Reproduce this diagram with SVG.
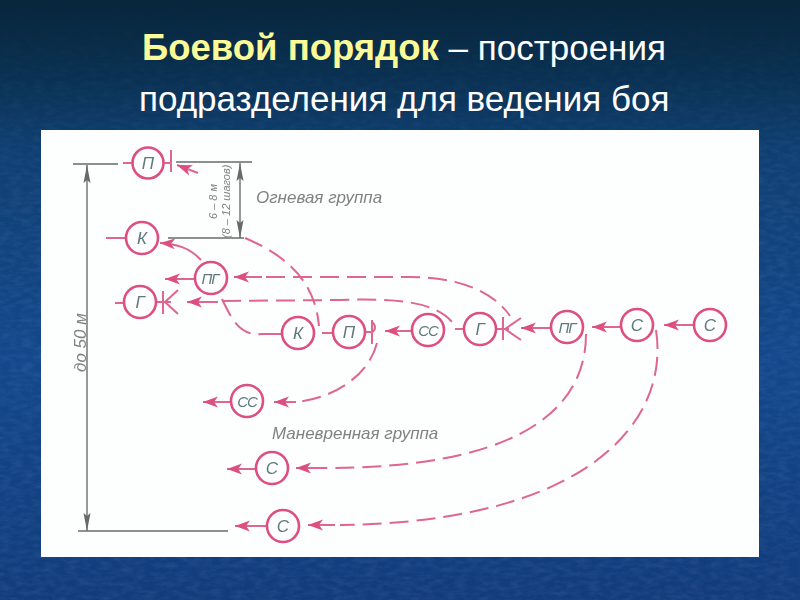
<svg xmlns="http://www.w3.org/2000/svg" width="800" height="600" viewBox="0 0 800 600">
<style>
.p{fill:none;stroke:#de6690;stroke-width:2}
.d{fill:none;stroke:#de6690;stroke-width:2;stroke-dasharray:19 8}
.a{marker-end:url(#ph)}
.g{fill:none;stroke:#6a6e6e;stroke-width:1.4}
.ga{marker-end:url(#gh)}
.n{fill:#fff;stroke:#dc4f80;stroke-width:2.6}
.l{font-family:"Liberation Sans",Arial,sans-serif;font-style:italic;font-size:17px;fill:#5b7a7c;text-anchor:middle}
.s{font-size:15px;letter-spacing:-1px}
.t{font-family:"Liberation Sans",Arial,sans-serif;font-style:italic;font-size:17px;fill:#7f8384}
.h{font-family:"Liberation Sans",Arial,sans-serif;font-size:35px;fill:#fff}
</style>
<defs>
<linearGradient id="bg" x1="0" y1="0" x2="0" y2="1">
<stop offset="0" stop-color="#08263c"/><stop offset="0.12" stop-color="#0a3050"/><stop offset="0.25" stop-color="#0f3f72"/><stop offset="0.6" stop-color="#13488c"/><stop offset="1" stop-color="#123c7c"/>
</linearGradient>
<linearGradient id="fade" x1="0" y1="0" x2="0" y2="1">
<stop offset="0" stop-color="#000"/><stop offset="0.2" stop-color="#888"/><stop offset="0.35" stop-color="#fff"/>
</linearGradient>
<mask id="tm"><rect width="800" height="600" fill="url(#fade)"/></mask>
<filter id="tex" x="0" y="0" width="1" height="1">
<feTurbulence type="fractalNoise" baseFrequency="0.09 0.22" numOctaves="3" seed="4"/>
<feColorMatrix values="0 0 0 0 0.35  0 0 0 0 0.5  0 0 0 0 0.8  0.9 0 0 0 -0.3"/>
</filter>
<filter id="soft" x="-5%" y="-5%" width="110%" height="110%"><feGaussianBlur stdDeviation="0.45"/></filter>
<marker id="ph" markerUnits="userSpaceOnUse" markerWidth="22" markerHeight="14" refX="20" refY="7" orient="auto">
<path d="M20,7 L5,1.5 L9,7 L5,12.5 Z" fill="#dc4f80"/>
</marker>
<marker id="gh" markerUnits="userSpaceOnUse" markerWidth="20" markerHeight="10" refX="18" refY="5" orient="auto">
<path d="M18,5 L0,1.5 L3,5 L0,8.5 Z" fill="#666a6a"/>
</marker>
</defs>
<rect id="background" width="800" height="600" fill="url(#bg)"/>
<g mask="url(#tm)"><rect width="800" height="600" filter="url(#tex)" opacity="0.22"/></g>
<rect id="panel" x="41" y="130" width="718" height="427" fill="#fdfefe"/>
<g id="title">
<text class="h" x="142" y="60"><tspan font-weight="bold" font-size="36.5" fill="#fbfb98">Боевой порядок</tspan> – построения</text>
<text class="h" x="139" y="111">подразделения для ведения боя</text>
</g>
<g filter="url(#soft)">
<g id="connectors">
<path class="g" d="M73,164H118M176,162H252M168,238H244M78,531H228"/>
<path class="g ga" d="M87,340V165"/><path class="g ga" d="M87,340V531"/>
<path class="g ga" d="M240,200V163"/><path class="g ga" d="M240,200V238"/>
<path class="p" d="M123,163H132M106,238H126M115,303H124M322,333H333M455,329H464"/>
<path class="p a" d="M198,173L177,165"/>
<path class="p" d="M171,150V172M163,163H171"/>
<path class="p a" d="M201,260C190,248 177,244 160,243"/>
<path class="p a" d="M195,279H165"/>
<path class="p a" d="M262,277H234"/>
<path class="d" d="M266,277H410C450,277 490,287 510,316"/>
<path class="p" d="M156,302H171M163,291V314M165,302L178,290M165,302L178,314"/>
<path class="p a" d="M218,302H187"/>
<path class="d" d="M222,301L340,300C400,298 435,302 453,323"/>
<path class="d" d="M222,299C232,320 240,336 262,334"/>
<path class="p" d="M262,334H282"/>
<path class="d" d="M245,238C285,255 315,280 319,326"/>
<path class="p" d="M366,332H372M372,320V344M372,322C376,325 376,330 372,332"/>
<path class="p a" d="M412,331H385"/>
<path class="d" d="M377,343C368,378 330,399 296,402"/>
<path class="p a" d="M296,402H274"/>
<path class="p a" d="M231,402H203"/>
<path class="p" d="M496,329H509M503,317V340M505,329L521,318M505,329L521,340"/>
<path class="p a" d="M551,328H521"/>
<path class="p a" d="M620,327H592"/>
<path class="p a" d="M693,325H664"/>
<path class="d" d="M586,334C586,420 500,468 325,468"/>
<path class="p a" d="M325,468H296"/>
<path class="p a" d="M256,469H227"/>
<path class="d" d="M656,330C670,420 590,522 340,525"/>
<path class="p a" d="M335,525H308"/>
<path class="p a" d="M267,526H235"/>
</g>
<g id="n-p1"><circle class="n" cx="148" cy="163" r="15.5"/><text class="l" x="148" y="169">П</text></g>
<g id="n-k1"><circle class="n" cx="142" cy="238" r="16"/><text class="l" x="142" y="244">К</text></g>
<g id="n-pg1"><circle class="n" cx="211" cy="278" r="16"/><text class="l s" x="210" y="284">ПГ</text></g>
<g id="n-g1"><circle class="n" cx="140" cy="302" r="16"/><text class="l" x="140" y="308">Г</text></g>
<g id="n-k2"><circle class="n" cx="298" cy="333" r="16"/><text class="l" x="298" y="339">К</text></g>
<g id="n-p2"><circle class="n" cx="349" cy="332" r="16"/><text class="l" x="349" y="338">П</text></g>
<g id="n-cc1"><circle class="n" cx="428" cy="330" r="16"/><text class="l s" x="428" y="336">СС</text></g>
<g id="n-g2"><circle class="n" cx="480" cy="329" r="16"/><text class="l" x="480" y="335">Г</text></g>
<g id="n-pg2"><circle class="n" cx="567" cy="327" r="16"/><text class="l s" x="567" y="333">ПГ</text></g>
<g id="n-c1"><circle class="n" cx="637" cy="325" r="16"/><text class="l" x="637" y="331">С</text></g>
<g id="n-c2"><circle class="n" cx="710" cy="325" r="16"/><text class="l" x="710" y="331">С</text></g>
<g id="n-cc2"><circle class="n" cx="247" cy="401" r="16"/><text class="l s" x="247" y="407">СС</text></g>
<g id="n-c3"><circle class="n" cx="272" cy="468" r="16"/><text class="l" x="272" y="474">С</text></g>
<g id="n-c4"><circle class="n" cx="283" cy="526" r="16"/><text class="l" x="283" y="532">С</text></g>
<g id="labels">
<text class="t" x="256" y="203">Огневая группа</text>
<text class="t" x="272" y="439">Маневренная группа</text>
<text class="t" transform="translate(86,372) rotate(-90)">до 50 м</text>
<text class="t" transform="translate(217,219) rotate(-90)" style="font-size:11px">6 – 8 м</text>
<text class="t" transform="translate(230,238) rotate(-90)" style="font-size:11px">(8 – 12 шагов)</text>
</g>
</g>
</svg>
